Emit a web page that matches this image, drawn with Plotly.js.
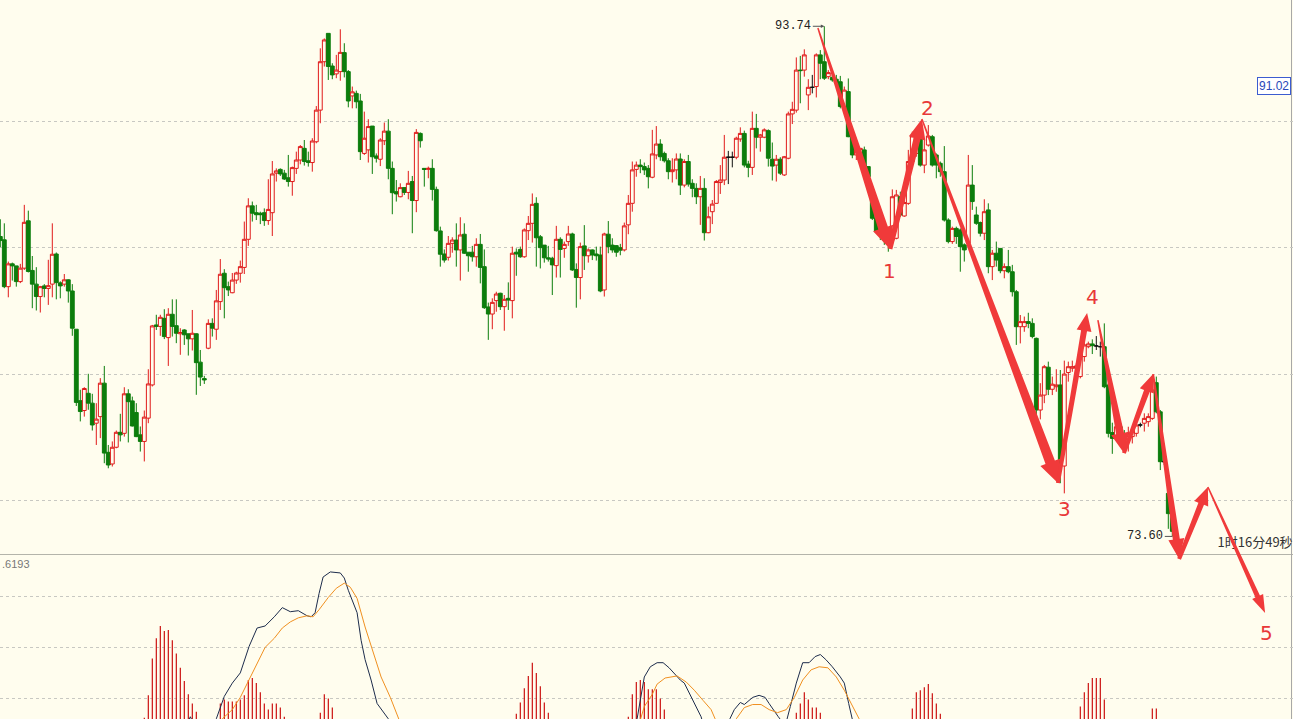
<!DOCTYPE html>
<html><head><meta charset="utf-8">
<script src="https://cdn.plot.ly/plotly-3.0.1.min.js"></script>
<style>html,body{margin:0;padding:0;background:#fffdee;}#chart{width:1293px;height:719px;}</style>
</head><body><div id="chart"></div>
<script>
// ---- price candles ----
const open = [85.44,85.31,83.46,84.36,84.28,83.66,84.19,86.06,84.10,83.56,
83.07,83.49,83.39,83.56,84.75,83.61,83.56,83.73,83.29,81.78,
78.96,78.57,79.25,78.86,78.07,78.33,79.65,76.92,76.46,77.12,
77.71,77.67,79.23,78.95,78.49,77.61,77.35,78.27,79.58,81.95,
81.89,82.21,81.45,82.37,81.92,81.60,81.75,81.60,81.40,81.60,
80.48,79.83,81.03,82.01,81.78,82.87,83.99,83.46,83.22,83.72,
83.99,84.22,85.33,86.65,86.38,86.36,86.38,86.07,86.38,87.94,
88.09,87.94,87.76,87.61,88.13,88.46,88.92,88.43,88.36,89.18,
90.43,92.34,93.46,92.17,91.86,91.95,92.70,91.95,90.99,91.09,
90.79,88.72,88.86,89.80,88.62,88.49,89.22,89.60,88.13,87.21,
87.01,87.37,87.18,87.61,86.86,89.51,88.13,88.09,88.13,87.30,
85.66,84.75,84.62,85.17,85.30,84.91,85.53,84.82,84.82,84.64,
85.13,84.25,82.66,82.38,82.91,83.20,82.67,83.00,82.91,84.82,
84.93,84.64,85.67,85.96,86.75,85.43,85.10,84.60,84.58,84.29,
85.33,84.97,85.24,85.54,84.14,83.82,85.07,84.68,84.91,84.75,
84.71,83.33,85.53,85.10,85.08,85.00,84.91,85.90,86.75,88.09,
88.26,88.20,88.13,87.78,88.66,89.09,88.72,88.43,88.00,88.07,
88.50,87.47,88.40,87.54,87.34,87.01,87.34,85.59,86.42,86.75,
87.57,87.67,88.57,88.57,88.57,89.29,89.51,88.30,88.17,89.71,
89.36,89.36,89.62,88.49,88.26,88.49,87.87,88.53,90.28,90.43,
92.01,92.01,91.03,91.33,91.36,92.61,92.34,91.75,91.72,91.65,
91.55,90.57,91.16,89.38,88.66,88.72,88.86,88.20,87.28,86.16,
85.76,85.70,85.63,85.30,85.37,87.01,86.25,86.75,88.40,88.72,
89.38,88.26,89.05,89.38,88.66,88.33,88.00,86.09,85.24,85.76,
85.70,85.11,85.17,87.47,86.29,85.99,85.57,86.49,84.25,84.78,
84.97,84.09,84.25,84.05,83.26,81.88,81.88,82.08,82.01,81.42,
78.59,79.18,80.28,79.41,79.51,79.58,76.38,80.07,80.24,80.24,
79.91,80.70,81.09,81.20,81.12,81.09,81.09,79.58,77.70,77.47,
77.93,77.60,77.54,77.54,77.67,78.00,78.07,78.13,78.26,79.67,
78.52,76.55,75.30,74.40];
const high = [86.12,85.96,84.45,84.41,84.28,84.36,86.69,86.46,84.67,84.23,
83.49,83.56,84.52,85.96,84.81,83.67,83.96,83.75,83.56,81.78,
79.39,79.49,80.02,79.23,78.86,79.85,80.33,77.21,77.35,77.78,
78.44,79.49,79.41,79.12,78.86,77.94,78.57,80.20,81.95,82.35,
82.35,82.57,82.61,82.96,82.96,81.82,81.78,81.60,82.54,81.62,
80.96,79.94,82.17,82.21,83.33,84.55,84.15,83.66,84.00,84.05,
84.49,86.03,86.95,86.82,86.69,86.42,86.55,87.70,88.42,88.13,
88.13,88.07,88.66,88.20,88.79,89.05,89.25,88.79,89.32,90.59,
92.87,93.26,93.46,92.28,92.61,93.62,93.07,92.01,91.36,91.20,
91.07,90.37,90.07,89.80,88.72,89.32,89.94,90.07,88.40,87.67,
87.54,87.38,88.03,87.83,89.68,89.55,88.13,88.20,88.49,87.41,
85.83,84.93,85.46,85.41,85.96,86.20,85.96,84.82,85.07,85.37,
85.54,84.93,82.83,83.00,83.26,83.22,83.13,83.63,85.04,84.97,
85.04,85.76,86.25,87.14,86.99,85.50,85.10,85.07,84.64,85.86,
85.41,85.24,85.86,85.59,84.38,85.20,85.89,84.97,84.93,85.04,
85.04,85.59,86.05,85.37,85.10,85.15,85.99,87.08,88.40,88.40,
88.49,88.36,88.26,89.65,89.80,89.28,88.79,88.53,88.53,88.72,
88.72,88.49,88.66,87.70,87.54,87.83,87.74,86.62,86.88,87.67,
88.26,89.45,88.82,88.79,89.38,89.75,89.62,88.43,90.37,90.28,
89.49,89.71,89.67,89.15,88.66,88.57,88.62,90.37,90.76,92.51,
92.57,92.83,91.65,91.82,92.67,92.80,93.74,92.01,91.82,91.82,
91.78,91.36,91.68,89.38,88.92,88.92,88.99,88.20,87.34,86.16,
85.83,85.76,85.70,87.30,87.28,87.21,86.88,88.86,89.58,89.45,
89.58,89.25,89.84,89.45,88.72,88.40,89.01,86.16,85.83,85.83,
85.76,85.17,88.66,88.26,86.62,86.03,86.91,86.75,84.91,85.24,
84.97,84.38,84.91,84.32,83.33,82.34,82.28,82.43,82.21,81.45,
79.65,80.37,80.50,79.91,80.20,80.17,80.54,80.50,80.54,80.43,
81.22,81.49,81.29,81.38,81.51,81.29,82.01,79.65,78.09,78.00,
78.00,77.80,77.93,77.87,78.13,78.09,78.46,78.46,79.64,79.91,
78.59,76.62,75.40,74.50];
const low = [85.02,83.40,83.04,83.70,83.46,83.60,84.12,84.02,82.61,82.52,
82.44,83.04,82.74,83.04,82.96,83.00,83.46,82.83,81.52,78.75,
78.14,78.33,78.60,77.78,77.21,77.48,76.49,76.29,76.36,77.08,
77.35,77.54,77.31,77.94,77.52,76.95,76.56,78.07,79.52,81.75,
81.52,81.39,80.33,81.49,81.23,80.77,81.16,80.74,80.94,79.19,
79.54,79.62,80.99,81.49,81.36,82.54,82.21,83.09,83.20,83.57,
83.62,83.96,85.07,86.03,86.09,85.93,85.86,85.90,85.46,87.61,
87.83,87.67,87.41,87.05,87.91,88.29,88.24,88.20,88.00,89.12,
89.91,92.15,91.62,91.65,91.69,91.59,91.72,90.54,90.50,90.50,
88.46,88.66,88.36,87.91,88.36,88.22,89.05,87.70,86.32,86.82,
86.99,87.08,86.91,85.57,86.40,88.95,87.41,87.74,86.86,85.63,
84.25,84.41,84.49,84.80,84.25,83.70,84.75,84.05,84.45,84.25,
83.59,82.58,81.36,81.78,82.47,82.54,81.72,82.54,82.21,83.89,
84.60,84.60,85.30,85.20,84.25,84.18,84.41,84.45,83.13,83.82,
83.82,84.60,85.07,84.08,82.63,82.96,84.12,84.41,84.51,84.49,
83.24,83.07,84.78,84.80,84.64,84.70,84.85,85.53,86.42,87.80,
87.94,87.87,87.34,87.74,88.49,88.43,88.36,87.70,87.57,87.70,
87.08,87.38,87.41,86.99,86.72,85.90,85.28,85.57,85.93,86.75,
87.12,87.47,87.51,88.17,88.49,89.18,88.17,87.78,87.87,88.92,
88.79,89.32,88.20,87.65,87.61,87.87,87.83,88.49,89.88,90.33,
90.70,91.75,90.43,91.09,90.93,91.65,91.62,91.65,91.55,91.42,
90.50,90.43,89.36,88.53,88.46,88.49,88.13,87.61,86.09,85.57,
85.30,85.11,84.84,85.15,85.33,86.22,86.22,86.69,88.33,88.59,
88.20,87.94,88.99,88.20,87.74,87.80,86.03,85.17,85.15,85.15,
84.05,84.45,85.04,86.49,85.90,85.44,85.30,83.99,83.72,84.25,
83.99,83.79,83.99,83.07,81.16,81.22,81.68,81.82,81.42,78.20,
78.22,78.86,79.18,79.18,79.31,75.70,75.30,79.71,80.10,80.17,
79.84,80.50,81.03,80.80,80.96,80.70,79.45,77.51,76.86,77.41,
77.27,77.14,76.95,77.27,77.54,77.91,77.74,77.93,78.20,78.46,
76.22,76.42,73.90,73.60];
const close = [85.28,83.46,84.36,84.28,83.66,84.19,86.00,84.06,83.56,83.07,
83.46,83.39,83.50,84.74,83.62,83.49,83.73,83.29,81.82,78.89,
78.53,79.44,78.86,78.00,78.23,79.65,76.89,76.42,77.12,77.71,
77.61,79.23,78.92,77.96,77.54,77.35,78.31,79.62,81.91,81.89,
82.25,81.49,82.37,81.89,81.62,81.65,81.56,81.40,81.62,80.46,
79.89,79.78,82.01,81.82,82.90,83.95,83.42,83.33,83.72,84.00,
84.25,85.33,86.65,86.36,86.30,86.30,86.07,86.51,87.91,88.03,
87.91,87.71,87.61,88.16,88.46,88.99,88.40,88.36,89.21,90.43,
92.34,93.20,92.15,91.82,92.01,92.71,91.95,90.79,91.15,90.76,
88.79,89.32,89.78,88.59,88.53,89.25,89.60,88.13,87.17,87.12,
87.37,87.18,87.54,86.86,89.55,89.22,88.09,88.13,87.30,85.67,
84.74,84.51,85.17,85.30,84.91,85.50,84.78,84.68,84.64,85.13,
84.22,82.63,82.38,82.84,83.17,82.67,82.96,82.93,84.78,84.75,
84.64,85.70,85.96,86.71,85.39,85.00,84.60,84.55,84.32,85.33,
84.93,85.13,85.54,84.12,83.82,85.04,84.68,84.91,84.71,84.68,
83.29,85.54,85.04,84.91,84.82,84.90,85.86,86.75,88.07,88.26,
88.20,88.07,87.80,88.70,89.09,88.59,88.43,88.00,88.07,88.50,
87.47,88.40,87.51,87.34,87.01,87.34,85.59,86.22,86.72,87.61,
87.67,88.57,88.57,88.57,89.32,89.51,88.26,88.17,89.71,89.36,
89.45,89.65,88.53,88.22,88.49,87.94,88.59,90.28,90.46,92.01,
91.99,92.61,91.33,91.33,92.61,92.28,91.69,91.91,91.62,91.51,
90.57,91.22,89.38,88.66,88.86,88.92,88.20,87.80,86.16,85.63,
85.59,85.44,85.24,87.01,87.08,86.29,86.78,88.40,89.41,89.25,
88.26,88.86,89.41,88.26,88.26,88.00,86.09,85.24,85.76,85.44,
85.04,84.91,87.47,86.82,85.96,85.57,86.42,84.25,84.78,84.51,
84.09,84.25,84.05,83.26,81.88,82.08,82.08,82.01,81.49,78.59,
79.18,80.30,79.41,79.61,79.58,76.42,80.01,80.30,80.30,80.33,
80.80,81.16,81.20,81.13,81.12,81.09,79.51,77.67,77.47,77.93,
77.54,77.41,77.67,77.74,78.00,78.00,78.26,78.33,79.38,78.52,
76.55,76.55,74.50,73.80];

// ---- lower indicator ----
const macdIdx = [36,37,38,39,40,41,42,43,44,45,46,47,48,49,
55,56,57,58,59,60,61,62,63,64,65,66,67,68,69,70,71,
80,81,82,83,
129,130,131,132,133,134,135,136,137,
157,158,159,160,161,162,163,164,165,166,
199,200,201,202,203,204,205,
228,229,230,231,232,233,234,235,
270,271,272,273,274,275,276,
288,289];
const macdVal = [0.31,0.53,0.89,1.09,1.21,1.16,1.17,1.07,0.94,0.80,0.67,0.54,0.45,0.37,
0.45,0.49,0.47,0.47,0.47,0.49,0.53,0.68,0.70,0.65,0.56,0.45,0.39,0.45,0.45,0.41,0.32,
0.36,0.54,0.50,0.41,
0.35,0.46,0.60,0.72,0.85,0.75,0.62,0.46,0.36,
0.32,0.54,0.66,0.68,0.66,0.59,0.59,0.59,0.50,0.39,
0.36,0.45,0.56,0.49,0.41,0.41,0.36,
0.40,0.56,0.58,0.61,0.64,0.55,0.45,0.35,
0.42,0.56,0.65,0.70,0.70,0.70,0.49,
0.40,0.40];
const difIdx = [0,40,46,47.5,49,51,54,56,58,60,62.2,64.2,66.2,68.5,70.5,72.5,74.5,76.7,77.7,78.7,79.7,80.7,82.5,84,85,86,87,89.2,90.2,91.2,92.7,94.2,95.8,97,99,
130,155,159.2,161,162.5,164.2,165.7,167.2,168.7,170,171,172.5,174,175.2,176.5,179.5,181.2,182.4,183.5,185,186,187,188.1,189.7,191.2,192.2,193.2,194.5,195.5,196.5,197.5,199,200.6,202.2,203.7,205,206.4,208,210,211,212.1,213.1,214.2,240,293];
const difVal = [-0.3,-0.1,0.18,0.32,0.2,0.1,0.30,0.52,0.65,0.75,1.01,1.19,1.21,1.30,1.39,1.35,1.36,1.31,1.30,1.34,1.53,1.69,1.74,1.73,1.73,1.68,1.56,1.34,1.07,0.88,0.68,0.45,0.37,0.30,0.05,
-0.2,0.0,0.30,0.71,0.81,0.85,0.85,0.80,0.73,0.68,0.65,0.53,0.41,0.32,0.14,0.05,0.12,0.30,0.39,0.46,0.44,0.47,0.51,0.53,0.51,0.45,0.39,0.32,0.27,0.27,0.42,0.65,0.85,0.85,0.91,0.93,0.88,0.81,0.71,0.65,0.45,0.30,0.09,-0.3,-0.4];
const deaIdx = [0,45,53.7,55.5,58,60,62.2,64.2,66.2,68.5,70.5,72.5,74.5,76.7,78.2,79.7,82,84,86,87.5,89.2,91.2,93.2,95.2,97.5,99.5,101.2,
130,155,158.5,160,161,163,164.2,166.2,169.2,171.5,173.5,175.7,177.7,178.7,180,181.7,184,186,188.1,190.2,192.2,194.3,196.5,198.5,200.6,202.7,204.7,206.9,209,211,213.1,214.7,216,240,293];
const deaVal = [-0.3,0.0,0.04,0.30,0.39,0.51,0.68,0.85,1.00,1.09,1.19,1.25,1.29,1.31,1.30,1.37,1.49,1.58,1.63,1.59,1.48,1.20,0.95,0.71,0.51,0.32,0.14,
-0.1,0.05,0.09,0.30,0.42,0.54,0.64,0.70,0.72,0.66,0.58,0.48,0.39,0.30,0.20,0.20,0.30,0.41,0.44,0.44,0.39,0.36,0.39,0.51,0.68,0.78,0.81,0.80,0.71,0.58,0.42,0.30,0.14,-0.2,-0.4];

// ---- hand-drawn wave arrows (turning points) ----
const waveIdx   = [204.4,222.4,230.4,264.4,271.7,274.4,280.9,288.2,294.7,301.9,316.2];
const wavePrice = [93.67,84.95,90.08,75.71,82.42,82.14,76.89,80.01,72.71,75.55,70.58];
const waveLabels = ['1','2','3','4','5'];

const highLabel = 93.74, highIdx = 206;
const lowLabel = 73.60, lowIdx = 293;
const priceTag = 91.02;
const timerText = '1时16分49秒';
const indicatorText = '.6193';

// ---- layout geometry ----
const W = 1293, H = 719, BG = '#fffdee';
const xRange = [-0.075, 323.175];
const yMain = [72.906, 94.777];
const yLow = [0.298, 1.906];
const yOver = [66.392, 94.777];
const SX = W / (xRange[1] - xRange[0]);
const SY = H / (yOver[1] - yOver[0]);

const idxAll = open.map((_, i) => i);
const normal = idxAll.filter(i => open[i] !== close[i]);
const doji = idxAll.filter(i => open[i] === close[i]);
const pick = (arr, ids) => ids.map(i => arr[i]);

const traces = [
  {type:'candlestick', x:normal, open:pick(open,normal), high:pick(high,normal), low:pick(low,normal), close:pick(close,normal),
   xaxis:'x', yaxis:'y', whiskerwidth:0, hoverinfo:'skip',
   increasing:{line:{color:'#e01a1a', width:1}, fillcolor:BG},
   decreasing:{line:{color:'#0c7d0c', width:1}, fillcolor:'#0c7d0c'}},
  {type:'candlestick', x:doji, open:pick(open,doji), high:pick(high,doji), low:pick(low,doji), close:pick(close,doji),
   xaxis:'x', yaxis:'y', whiskerwidth:0, hoverinfo:'skip',
   increasing:{line:{color:'#111', width:1}, fillcolor:'#111'},
   decreasing:{line:{color:'#111', width:1}, fillcolor:'#111'}},
  {type:'bar', x:macdIdx, y:macdVal, xaxis:'x2', yaxis:'y2', width:0.28, marker:{color:'#c80000', line:{width:0}}, hoverinfo:'skip'},
  {type:'scatter', mode:'lines', x:difIdx, y:difVal, xaxis:'x2', yaxis:'y2', line:{color:'#1d2c4c', width:1}, hoverinfo:'skip'},
  {type:'scatter', mode:'lines', x:deaIdx, y:deaVal, xaxis:'x2', yaxis:'y2', line:{color:'#f09020', width:1}, hoverinfo:'skip'},
  {type:'scatter', mode:'text', x:[xRange[1]-0.1], y:[73.30], text:[timerText], textposition:'middle left', cliponaxis:false,
   xaxis:'x3', yaxis:'y3', textfont:{family:'Noto Sans CJK SC', size:13, color:'#333'}, hoverinfo:'skip'}
];

function arrowPath(a, b, w0, w1, hw, hl) {
  const ax = a[0]*SX, ay = -a[1]*SY, bx = b[0]*SX, by = -b[1]*SY;
  const dx = bx-ax, dy = by-ay, L = Math.hypot(dx, dy);
  const ux = dx/L, uy = dy/L, nx = -uy, ny = ux;
  const cx = bx - ux*hl, cy = by - uy*hl;
  const pts = [[ax+nx*w0/2, ay+ny*w0/2],[cx+nx*w1/2, cy+ny*w1/2],[cx+nx*hw/2, cy+ny*hw/2],[bx,by],
               [cx-nx*hw/2, cy-ny*hw/2],[cx-nx*w1/2, cy-ny*w1/2],[ax-nx*w0/2, ay-ny*w0/2]];
  return 'M' + pts.map(p => (p[0]/SX).toFixed(3) + ',' + (-p[1]/SY).toFixed(3)).join(' L') + ' Z';
}
const P = waveIdx.map((v, i) => [v, wavePrice[i]]);
const segs = [
  [0,1, 1.5,10,21,22],[1,2, 5,7,17,20],[2,3, 1.5,10,21,22],[3,4, 4,6,15,18],
  [5,6, 1.5,8,18,20],[6,7, 4,6,15,18],[7,8, 2,7,16,20],[8,9, 4,6,15,18],[9,10, 1.5,5,12,18]
];
const shapes = segs.map(s => ({type:'path', xref:'x3', yref:'y3', layer:'above',
  path: arrowPath(P[s[0]], P[s[1]], s[2], s[3], s[4], s[5]),
  fillcolor:'#f03a3a', line:{width:0}}));
shapes.push({type:'line', xref:'paper', yref:'paper', x0:0, x1:1, y0:1-554.5/H, y1:1-554.5/H, line:{color:'#b4b4aa', width:1}, layer:'below'});
shapes.push({type:'line', xref:'paper', yref:'paper', x0:1291.5/W, x1:1291.5/W, y0:0, y1:1, line:{color:'#a8a8a8', width:1}, layer:'below'});

const labelPts = [1,2,3,4,10];
const labelShift = [[0,-22],[6,11],[7,-26],[5,16],[1,-20]];
const annotations = labelPts.map((p, i) => ({xref:'x3', yref:'y3', x:P[p][0], y:P[p][1], text:waveLabels[i], showarrow:false,
  xshift:labelShift[i][0], yshift:labelShift[i][1], font:{family:'DejaVu Sans', size:20, color:'#e83838'}}));
annotations.push({xref:'x', yref:'y', x:highIdx, y:highLabel, text:highLabel.toFixed(2), showarrow:true, ax:-31, ay:0,
  arrowhead:2, arrowsize:0.7, arrowwidth:1, arrowcolor:'#555', standoff:0, font:{family:'Liberation Mono', size:12, color:'#222'}});
annotations.push({xref:'x', yref:'y', x:lowIdx, y:lowLabel, text:lowLabel.toFixed(2), showarrow:true, ax:-27, ay:0,
  arrowhead:0, arrowwidth:1, arrowcolor:'#555', standoff:0, font:{family:'Liberation Mono', size:12, color:'#222'}});
annotations.push({xref:'paper', yref:'y', x:1291/W, y:priceTag, xanchor:'right', yanchor:'bottom', text:priceTag.toFixed(2), showarrow:false,
  bordercolor:'#3c5cd0', borderwidth:1, borderpad:1, bgcolor:'#ffffff', font:{family:'Liberation Sans', size:12, color:'#2848b8'}});
annotations.push({xref:'paper', yref:'paper', x:0, y:1-564/H, xanchor:'left', yanchor:'middle', text:indicatorText, showarrow:false,
  font:{family:'Liberation Sans', size:11, color:'#777'}});

const gridStyle = {gridcolor:'#c8c8c2', griddash:'dot', gridwidth:1, showticklabels:false, zeroline:false, showline:false, ticks:'', fixedrange:true};
const layout = {
  width:W, height:H, margin:{l:0,r:0,t:0,b:0}, paper_bgcolor:BG, plot_bgcolor:'rgba(0,0,0,0)', showlegend:false,
  boxgap:0.02, boxgroupgap:0.02,
  xaxis:{domain:[0,1], range:xRange, anchor:'y', showgrid:false, showticklabels:false, zeroline:false, ticks:'', rangeslider:{visible:false}, fixedrange:true},
  yaxis:Object.assign({domain:[1-554/H,1], range:yMain, anchor:'x', tickvals:[75,80,85,90]}, gridStyle),
  xaxis2:{domain:[0,1], range:xRange, anchor:'y2', showgrid:false, showticklabels:false, zeroline:false, ticks:'', fixedrange:true},
  yaxis2:Object.assign({domain:[0,164/H], range:yLow, anchor:'x2', tickvals:[0.5,1,1.5]}, gridStyle),
  xaxis3:{domain:[0,1], range:xRange, anchor:'y3', visible:false, fixedrange:true},
  yaxis3:{domain:[0,1], range:yOver, anchor:'x3', visible:false, fixedrange:true},
  shapes:shapes, annotations:annotations
};
Plotly.newPlot('chart', traces, layout, {staticPlot:true, displayModeBar:false});
</script></body></html>
